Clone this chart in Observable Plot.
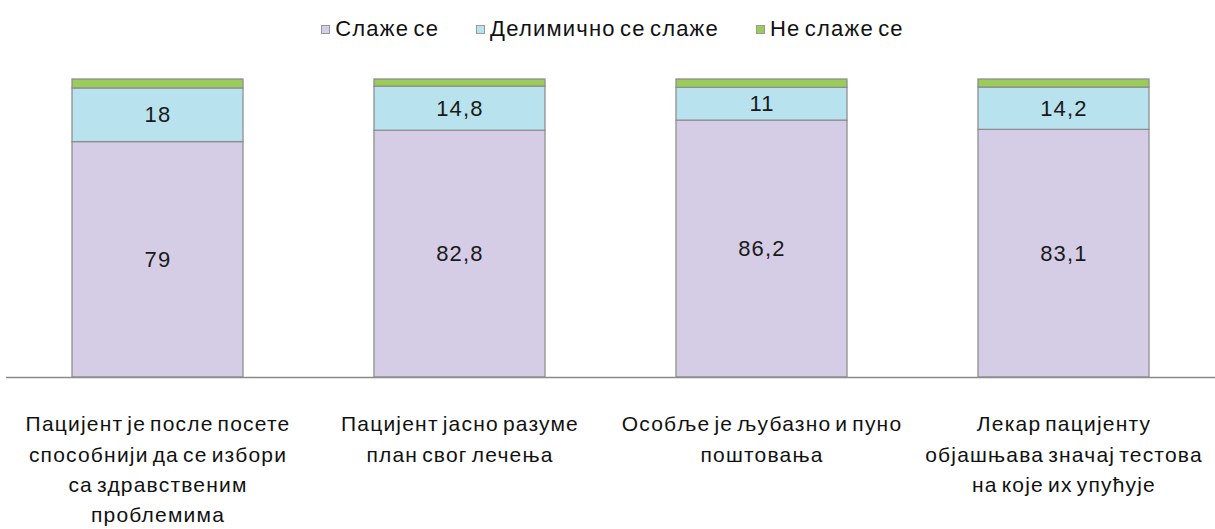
<!DOCTYPE html>
<html>
<head>
<meta charset="utf-8">
<script src="https://cdn.jsdelivr.net/npm/d3@7"></script>
<script src="https://cdn.jsdelivr.net/npm/@observablehq/plot@0.6"></script>
<style>
  html, body { margin: 0; padding: 0; background: #fff; }
  body { width: 1215px; height: 529px; overflow: hidden; font-family: "Liberation Sans", Arial, sans-serif; }
  #legend { height: 56px; display: flex; justify-content: center; align-items: center; gap: 37px; font-size: 22px; letter-spacing: 1.2px; word-spacing: -3px; color: #111; padding: 2px 0 0 10px; box-sizing: border-box; }
  #legend .item { display: flex; align-items: center; gap: 5px; }
  #legend .sw { width: 7px; height: 7px; border: 1px solid #9a9a9a; }
</style>
</head>
<body>
<div id="legend"></div>
<div id="chart"></div>
<script>
const categories = [
  "Пацијент је после посете\nспособнији да се избори\nса здравственим\nпроблемима",
  "Пацијент јасно разуме\nплан свог лечења",
  "Особље је љубазно и пуно\nпоштовања",
  "Лекар пацијенту\nобјашњава значај тестова\nна које их упућује"
];
const seriesNames = ["Слаже се", "Делимично се слаже", "Не слаже се"];
const agree = [79, 82.8, 86.2, 83.1];
const partly = [18, 14.8, 11, 14.2];
const disagree = [3, 2.4, 2.8, 2.7];
const colors = ["#d5cde6", "#b8e2ee", "#9bcb5b"];

const seriesValues = [agree, partly, disagree];
const data = [];
seriesNames.forEach((s, si) => {
  categories.forEach((c, ci) => {
    data.push({category: c, series: s, value: seriesValues[si][ci]});
  });
});

const legend = document.getElementById("legend");
seriesNames.forEach((s, i) => {
  const it = document.createElement("div");
  it.className = "item";
  const sw = document.createElement("span");
  sw.className = "sw";
  sw.style.background = colors[i];
  const t = document.createElement("span");
  t.textContent = s;
  it.appendChild(sw); it.appendChild(t);
  legend.appendChild(it);
});

const fmt = d => String(d).replace(".", ",");

const chart = Plot.plot({
  width: 1215,
  height: 473,
  marginLeft: 6,
  marginRight: 0,
  marginTop: 23,
  marginBottom: 152,
  style: {fontFamily: "'Liberation Sans', Arial, sans-serif", background: "#fff", letterSpacing: "1.2px", wordSpacing: "-3px"},
  x: {domain: categories, paddingInner: 0.435, paddingOuter: 0.2175, label: null},
  y: {domain: [0, 100], axis: null},
  color: {domain: seriesNames, range: colors},
  marks: [
    Plot.barY(data, Plot.stackY({
      x: "category", y: "value", fill: "series", order: seriesNames,
      stroke: "#8f8f8f", strokeWidth: 1.3
    })),
    Plot.text(data, Plot.stackY({
      filter: d => d.series !== "Не слаже се",
      x: "category", y: "value", z: "series", order: seriesNames,
      text: d => fmt(d.value), fontSize: 22, fill: "#1a1a1a"
    })),
    Plot.ruleY([0], {stroke: "#8a8a8a", strokeWidth: 1.5}),
    Plot.axisX({tickSize: 0, tickPadding: 32, fontSize: 21, lineHeight: 1.45, fill: "#111", label: null})
  ]
});
document.getElementById("chart").appendChild(chart);
</script>
</body>
</html>
